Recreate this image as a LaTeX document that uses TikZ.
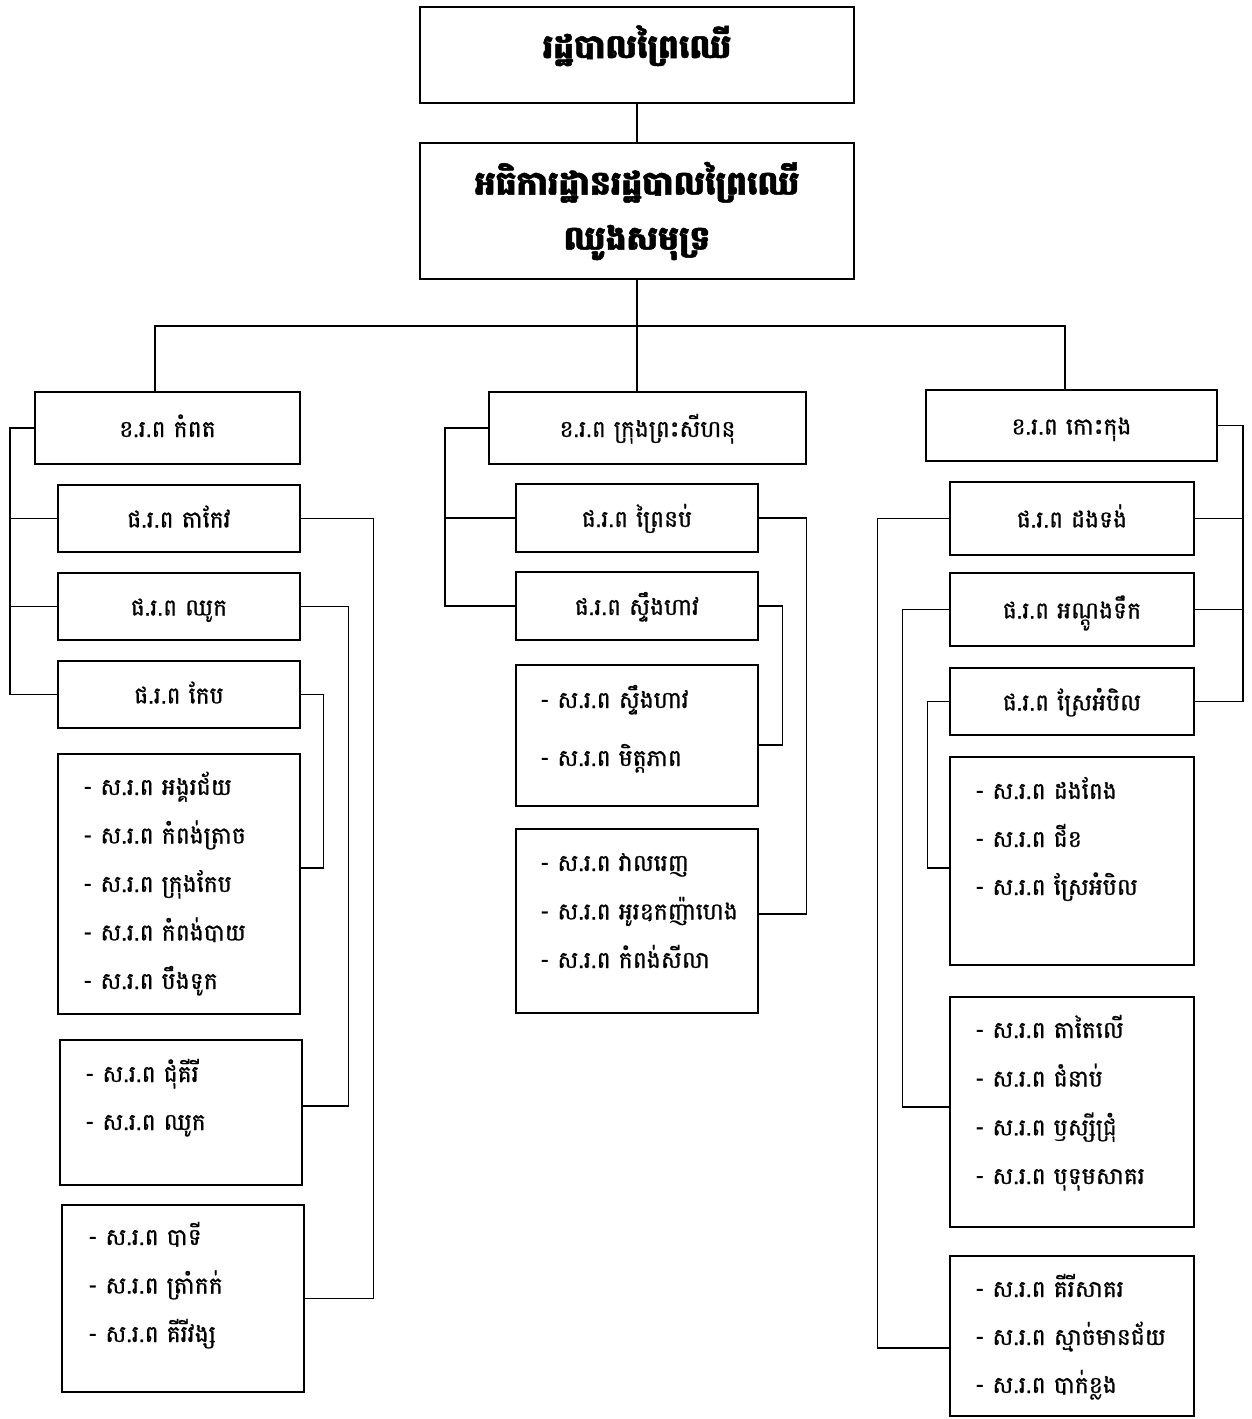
\documentclass[tikz,border=0pt]{standalone}
\usepackage{fontspec}
\setmainfont[Script=Khmer,AutoFakeBold=2]{Battambang}
\newfontfamily\heavyfam[Script=Khmer,FakeBold=1.5]{Battambang}
\newfontfamily\bodyfam[Script=Khmer,FakeBold=0.8]{Battambang}
\newcommand\titlefont{\heavyfam\bfseries\fontsize{33}{55}\selectfont}
\newcommand\bodyfont{\bodyfam\fontsize{23.5}{28}\selectfont}
\tikzset{
  box/.style={draw, line width=1.6pt, inner sep=0pt},
  lab/.style={font=\bodyfont, text height=20pt, text depth=2pt},
  item/.style={anchor=west, inner sep=0pt, font=\bodyfont, text height=16pt, text depth=6pt},
  conn/.style={line width=1.3pt},
}
% \mybox[options]{name}{x1}{y1}{x2}{y2}{text}
\newcommand\mybox[7][]{\node[box,#1,minimum width={(#5-#3)*1pt},minimum height={(#6-#4)*1pt}] (#2) at ({(#3+#5)/2},{(#4+#6)/2}) {#7};}
% \items{name}{x}{y0}{dy}{list}
\newcommand\items[5]{\foreach \t [count=\i] in {#5} {\node[item] (#1-\i) at (#2,{#3+#4*(\i-1)}) {- ស.រ.ព \t};}}
\begin{document}
\begin{tikzpicture}[x=1pt,y=-1pt]
\useasboundingbox (0,0) rectangle (1252,1419);
\fill[white] (0,0) rectangle (1252,1419);
% top
\mybox[font=\titlefont,text height=22pt,text depth=16pt]{top}{420}{7}{854}{103}{រដ្ឋបាលព្រៃឈើ}
\mybox[font=\titlefont,align=center]{ins}{420}{143}{854}{279}{អធិការដ្ឋានរដ្ឋបាលព្រៃឈើ\\ឈូងសមុទ្រ}
\draw[conn] (top.south) -- (ins.north);
% headers
\mybox[lab]{khead}{35}{392}{300}{464}{ខ.រ.ព កំពត}
\mybox[lab]{mhead}{489}{392}{806}{464}{ខ.រ.ព ក្រុងព្រះសីហនុ}
\mybox[lab]{rhead}{926}{390}{1217}{461}{ខ.រ.ព កោះកុង}
\coordinate (busL) at (155,326);
\coordinate (busR) at (1065,326);
\draw[conn] (ins.south) -- (ins.south |- mhead.north);
\draw[conn] (busL |- khead.north) -- (busL) -- (busR) -- (busR |- rhead.north);
% left column
\mybox[lab]{ltk}{58}{485}{300}{552}{ផ.រ.ព តាកែវ}
\mybox[lab]{lch}{58}{573}{300}{640}{ផ.រ.ព ឈូក}
\mybox[lab]{lkp}{58}{661}{300}{728}{ផ.រ.ព កែប}
\mybox{ll1}{58}{754}{300}{1014}{}
\mybox{ll2}{60}{1040}{302}{1185}{}
\mybox{ll3}{62}{1205}{304}{1392}{}
\items{lt1}{83}{790}{48.5}{អង្គរជ័យ,កំពង់ត្រាច,ក្រុងកែប,កំពង់បាយ,បឹងទូក}
\items{lt2}{85}{1077}{48}{ជុំគីរី,ឈូក}
\items{lt3}{88}{1240}{48.5}{បាទី,ត្រាំកក់,គីរីវង្ស}
\coordinate (kbb) at (10,694.5);
\draw[conn] (khead.west) -| (kbb) -- (lkp.west);
\draw[conn] (ltk.west) -- (ltk.west -| kbb);
\draw[conn] (lch.west) -- (lch.west -| kbb);
\draw[conn] (ltk.east) -- ++(73,0) |- (ll3.east);
\draw[conn] (lch.east) -- ++(48,0) |- ([yshift=6.5pt]ll2.east);
\draw[conn] (lkp.east) -- ++(23,0) |- ([yshift=16pt]ll1.east);
% middle column
\mybox[lab]{mpn}{516}{484}{758}{552}{ផ.រ.ព ព្រៃនប់}
\mybox[lab]{mst}{516}{572}{758}{640}{ផ.រ.ព ស្ទឹងហាវ}
\mybox{mlA}{516}{665}{758}{806}{}
\mybox{mlB}{516}{829}{758}{1013}{}
\items{mtA}{540}{703}{58}{ស្ទឹងហាវ,មិត្តភាព}
\items{mtB}{540}{866}{48.5}{វាលរេញ,អូរឧកញ៉ាហេង,កំពង់សីលា}
\coordinate (mbb) at (445,606);
\draw[conn] (mhead.west) -| (mbb) -- (mst.west);
\draw[conn] (mpn.west) -- (mpn.west -| mbb);
\draw[conn] (mpn.east) -- ++(48,0) |- ([yshift=7pt]mlB.east);
\draw[conn] (mst.east) -- ++(24,0) |- ([yshift=-9.5pt]mlA.east);
% right column
\mybox[lab]{rdt}{950}{482}{1194}{555}{ផ.រ.ព ដងទង់}
\mybox[lab]{rat}{950}{573}{1194}{646}{ផ.រ.ព អណ្ដូងទឹក}
\mybox[lab]{rsa}{950}{668}{1194}{735}{ផ.រ.ព ស្រែអំបិល}
\mybox{rl1}{950}{757}{1194}{965}{}
\mybox{rl2}{950}{997}{1194}{1227}{}
\mybox{rl3}{950}{1256}{1194}{1416}{}
\items{rt1}{975}{794}{48}{ដងពែង,ជីខ,ស្រែអំបិល}
\items{rt2}{975}{1033}{48.7}{តាតៃលើ,ជំនាប់,ឫស្សីជ្រុំ,បុទុមសាគរ}
\items{rt3}{975}{1292}{48}{គីរីសាគរ,ស្មាច់មានជ័យ,បាក់ខ្លង}
\coordinate (rbb) at (1243,701.5);
\draw[conn] (rhead.east) -| (rbb) -- (rsa.east);
\draw[conn] (rdt.east) -- (rdt.east -| rbb);
\draw[conn] (rat.east) -- (rat.east -| rbb);
\draw[conn] (rdt.west) -- ++(-72,0) |- ([yshift=-12pt]rl3.west);
\draw[conn] (rat.west) -- ++(-47,0) |- ([yshift=5pt]rl2.west);
\draw[conn] (rsa.west) -- ++(-22,0) |- ([yshift=-7pt]rl1.west);
\end{tikzpicture}
\end{document}
